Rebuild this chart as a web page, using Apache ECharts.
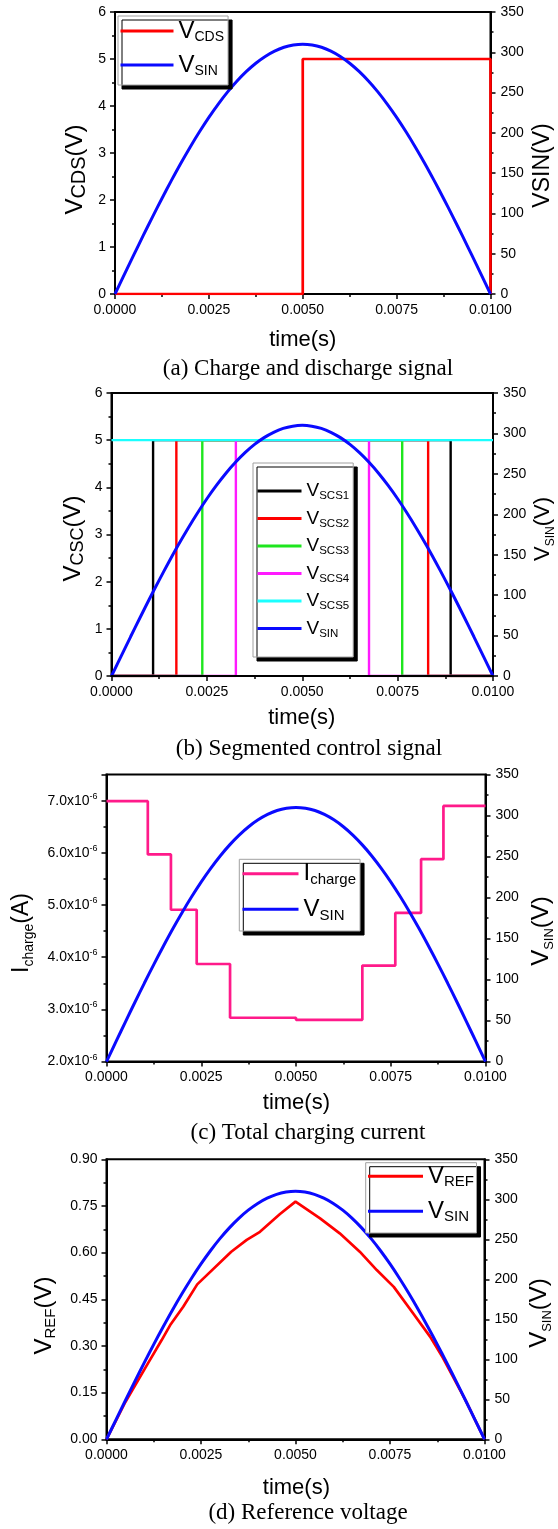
<!DOCTYPE html>
<html><head><meta charset="utf-8">
<script src="https://cdn.jsdelivr.net/npm/echarts@6/dist/echarts.min.js"></script>
<style>html,body{margin:0;padding:0;background:#fff}#c{width:558px;height:1529px}</style>
</head><body><div id="c"></div>
<script>
// ---------------- data ----------------
const vsinTime = [0,0.00025,0.0005,0.00075,0.001,0.00125,0.0015,0.00175,0.002,0.00225,0.0025,0.00275,0.003,0.00325,0.0035,0.00375,0.004,0.00425,0.0045,0.00475,0.005,
  0.00525,0.0055,0.00575,0.006,0.00625,0.0065,0.00675,0.007,0.00725,0.0075,0.00775,0.008,0.00825,0.0085,0.00875,0.009,0.00925,0.0095,0.00975,0.01];
const vsinValues = [0,24.3,48.5,72.4,95.8,118.6,140.7,162.0,182.2,201.3,219.2,235.7,250.8,264.3,276.2,286.4,294.8,301.4,306.2,309.0,310,
  309.0,306.2,301.4,294.8,286.4,276.2,264.3,250.8,235.7,219.2,201.3,182.2,162.0,140.7,118.6,95.8,72.4,48.5,24.3,0];
// (a) charge / discharge signal (step at end)
const vcdsTime = [0,0.005,0.01];
const vcdsValues = [0,5,0];
// (b) segmented control signals
const scsNames = ['SCS1','SCS2','SCS3','SCS4'];
const scsOnTime = [0.00109,0.0017,0.00238,0.00326];
const scsOffTime = [0.00889,0.0083,0.00762,0.00675];
const scsHigh = 5;
const scs5Time = [0,0.01];
const scs5Values = [5,5];
// (c) total charging current (µA, step at end)
const ichargeTime = [0,0.00109,0.0017,0.00238,0.00326,0.005,0.00675,0.00762,0.0083,0.00889,0.01];
const ichargeMicroA = [6.99,5.97,4.91,3.87,2.84,2.80,3.84,4.85,5.88,6.90,6.90];
// (d) reference voltage
const vrefTime = [0,0.0005,0.0011,0.00146,0.0017,0.00203,0.0024,0.0033,0.00371,0.00406,0.00459,0.005,0.00565,0.00617,0.0067,0.00715,0.0076,0.00811,0.00856,0.0089,0.0095,0.01];
const vrefValues = [0,0.12,0.245,0.319,0.37,0.426,0.498,0.603,0.641,0.667,0.724,0.764,0.71,0.662,0.603,0.544,0.49,0.405,0.33,0.262,0.125,0];
const captions = ['(a) Charge and discharge signal','(b) Segmented control signal','(c) Total charging current','(d) Reference voltage'];

// ---------------- helpers ----------------
const FONT = 'Liberation Sans, Arial, sans-serif';
const SERIF = 'Liberation Serif, Times New Roman, serif';
const zip = (t, v) => t.map((x, i) => [x, v[i]]);
const BLUE = '#0a0aff', RED = '#ff0000', PINK = '#ff1a8a', GREEN = '#1ee61e', MAGENTA = '#ff1aff', CYAN = '#1affff';

const grids = [
  {left:115, right:67.5, top:12, height:282},
  {left:111.5, right:65, top:393, height:283},
  {left:106.5, right:72.5, top:774.6, height:287},
  {left:106.5, right:73.5, top:1159.3, height:280}
].map(g => Object.assign({show:true, borderColor:'#000', borderWidth:2, backgroundColor:'transparent'}, g));

const tickStyle = {color:'#000', width:1.5};
function xAxisCfg(gi){
  return {type:'value', gridIndex:gi, min:0, max:0.01, interval:0.0025, z: gi === 1 ? 5 : 0,
    axisLine:{show:true, onZero:false, lineStyle:{color:'#000', width:2}},
    axisTick:{show:true, length:5, lineStyle:tickStyle},
    minorTick:{show:true, splitNumber:2, length:3, lineStyle:tickStyle},
    splitLine:{show:false}, minorSplitLine:{show:false},
    axisLabel:{color:'#000', fontSize:14, fontFamily:FONT, margin:9, formatter:v => v.toFixed(4)}};
}
function yAxisCfg(gi, pos, min, max, interval, fmt, extraLabel){
  return {type:'value', gridIndex:gi, position:pos, min, max, interval,
    axisLine:{show:true, onZero:false, lineStyle:{color:'#000', width:2}},
    axisTick:{show:true, length:5, lineStyle:tickStyle},
    minorTick:{show:true, splitNumber:2, length:3, lineStyle:tickStyle},
    splitLine:{show:false}, minorSplitLine:{show:false},
    axisLabel:Object.assign({color:'#000', fontSize:14, fontFamily:FONT, margin:pos==='left'?9:10, formatter:fmt}, extraLabel||{})};
}
const intFmt = v => String(Math.round(v));
const xAxes = [0,1,2,3].map(xAxisCfg);
const yAxes = [
  yAxisCfg(0,'left',0,6,1,intFmt),
  yAxisCfg(0,'right',0,350,50,intFmt),
  yAxisCfg(1,'left',0,6,1,intFmt),
  yAxisCfg(1,'right',0,350,50,intFmt),
  yAxisCfg(2,'left',2,7.5,1, v => Math.abs(v - Math.round(v)) < 1e-9 ? '{m|' + v.toFixed(1) + 'x10}{e|-6}' : '',
    {rich:{m:{fontSize:14, fontFamily:FONT, color:'#000', lineHeight:18}, e:{fontSize:9, fontFamily:FONT, color:'#000', lineHeight:8, verticalAlign:'top'}}}),
  yAxisCfg(2,'right',0,350,50,intFmt),
  yAxisCfg(3,'left',0,0.9,0.15, v => v.toFixed(2)),
  yAxisCfg(3,'right',0,350,50,intFmt)
];

function line(name, xi, yi, data, color, width, extra){
  return Object.assign({type:'line', name, xAxisIndex:xi, yAxisIndex:yi, data, showSymbol:false, symbol:'none',
    color, itemStyle:{color}, lineStyle:{color, width}, animation:false, z:2}, extra||{});
}
const series = [];
// (a)
series.push(line('a_vcds',0,0,zip(vcdsTime,vcdsValues),RED,2.7,{step:'end'}));
series.push(line('a_vsin',0,1,zip(vsinTime,vsinValues),BLUE,3,{smooth:0.3}));
// (b)
const scsColors = ['#000000',RED,GREEN,MAGENTA];
scsNames.forEach((n,i) => {
  series.push(line('b_'+n,1,2,[[0,0],[scsOnTime[i],scsHigh],[scsOffTime[i],0],[0.01,0]],scsColors[i],2.4,{step:'end'}));
});
series.push(line('b_SCS5',1,2,zip(scs5Time,scs5Values),CYAN,2.4));
series.push(line('b_vsin',1,3,zip(vsinTime,vsinValues),BLUE,3,{smooth:0.3}));
// (c)
series.push(line('c_ich',2,4,zip(ichargeTime,ichargeMicroA),PINK,2.7,{step:'end'}));
series.push(line('c_vsin',2,5,zip(vsinTime,vsinValues),BLUE,3,{smooth:0.3}));
// (d)
series.push(line('d_vref',3,6,zip(vrefTime,vrefValues),RED,2.7));
series.push(line('d_vsin',3,7,zip(vsinTime,vsinValues),BLUE,3,{smooth:0.3}));

const legendLabels = {a_vcds:['V','CDS'], a_vsin:['V','SIN'], b_SCS1:['V','SCS1'], b_SCS2:['V','SCS2'], b_SCS3:['V','SCS3'], b_SCS4:['V','SCS4'], b_SCS5:['V','SCS5'], b_vsin:['V','SIN'], c_ich:['I','charge'], c_vsin:['V','SIN'], d_vref:['V','REF'], d_vsin:['V','SIN']};
const legFmt = name => '{m|' + legendLabels[name][0] + '}{s|' + legendLabels[name][1] + '}';
function legendCfg(data, left, top, itemWidth, itemGap, padding, m, s, lh, slh){
  return {data, left, top, orient:'vertical', icon:'rect', itemWidth, itemHeight:3, itemGap, padding,
    backgroundColor:'#fff', borderColor:'#a0a0a0', borderWidth:1, borderRadius:0,
    shadowColor:'#000', shadowBlur:0, shadowOffsetX:4, shadowOffsetY:4, selectedMode:false,
    formatter:legFmt,
    textStyle:{color:'#000', fontFamily:FONT, rich:{
      m:{fontSize:m, fontFamily:FONT, color:'#000', lineHeight:lh},
      s:{fontSize:s, fontFamily:FONT, color:'#000', lineHeight:slh, verticalAlign:'bottom'}}}};
}
const legends = [
  legendCfg(['a_vcds','a_vsin'], 118, 16, 53, 9, [3,4,7,2.5], 24, 14, 26, 6),
  legendCfg(['b_SCS1','b_SCS2','b_SCS3','b_SCS4','b_SCS5','b_vsin'], 253, 463, 44, 7, [18.5,4,17.5,4.5], 19, 11.5, 22, 4),
  legendCfg(['c_ich','c_vsin'], 239.3, 859.3, 56, 9.6, [2.4,4,7.7,3.2], 24, 15, 28, 8),
  legendCfg(['d_vref','d_vsin'], 365.7, 1162.7, 55, 10, [1.6,2.5,8.7,2.3], 24, 15, 26, 6)
];

// ---------------- titles (graphic text) ----------------
function title(x, y, rich, text, rot){
  return {type:'text', x, y, rotation: rot ? Math.PI/2 : 0, z:10,
    style:{text, rich, fill:'#000', align:'center', verticalAlign:'middle', textAlign:'center', textVerticalAlign:'middle', font:'22px ' + FONT}};
}
function richSet(M, L, S, SL){
  return {m:{fontSize:M, fontFamily:FONT, lineHeight:L, fill:'#000'}, s:{fontSize:S, fontFamily:FONT, lineHeight:SL, verticalAlign:'bottom', fill:'#000'}};
}
const graphics = [
  title(75, 169.5, richSet(24,28,20,22), '{m|V}{s|CDS}{m|(V)}', true),
  title(543, 165.5, richSet(23,28,23,28), '{m|VSIN(V)}', true),
  title(73, 538.5, richSet(24,28,18,14), '{m|V}{s|CSC}{m|(V)}', true),
  title(543, 529, richSet(22,28,12,10), '{m|V}{s|SIN}{m|(V)}', true),
  title(22, 933, richSet(23,28,14,10), '{m|I}{s|charge}{m|(A)}', true),
  title(541.5, 931, richSet(24,28,13,10), '{m|V}{s|SIN}{m|(V)}', true),
  title(44.5, 1315.5, richSet(24,28,15,10), '{m|V}{s|REF}{m|(V)}', true),
  title(539.5, 1313, richSet(24,28,13,10), '{m|V}{s|SIN}{m|(V)}', true)
];
[[302.8,340],[301.8,718],[296.4,1103],[296.4,1488]].forEach(p => {
  graphics.push({type:'text', x:p[0], y:p[1], z:10, style:{text:'time(s)', fill:'#000', font:'22px ' + FONT, align:'center', verticalAlign:'middle', textAlign:'center', textVerticalAlign:'middle'}});
});
[[308,369],[309,749],[308,1133],[308,1513]].forEach((p,i) => {
  graphics.push({type:'text', x:p[0], y:p[1], z:10, style:{text:captions[i], fill:'#000', font:'23px ' + SERIF, align:'center', verticalAlign:'middle', textAlign:'center', textVerticalAlign:'middle'}});
});

const chart = echarts.init(document.getElementById('c'), null, {renderer:'canvas'});
chart.setOption({
  animation:false,
  backgroundColor:'#fff',
  grid:grids, xAxis:xAxes, yAxis:yAxes, series, legend:legends, graphic:graphics
});
</script></body></html>
